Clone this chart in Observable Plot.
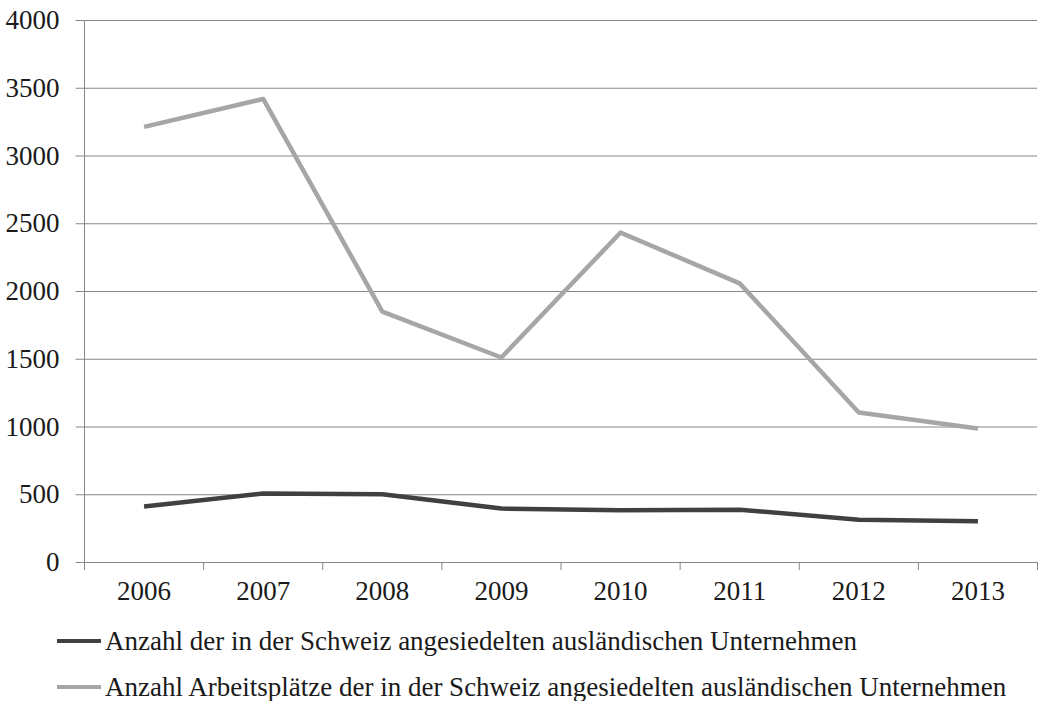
<!DOCTYPE html>
<html>
<head>
<meta charset="utf-8">
<script src="https://cdn.jsdelivr.net/npm/d3@7"></script>
<script src="https://cdn.jsdelivr.net/npm/@observablehq/plot@0.6"></script>
<style>
  body { margin: 0; background: #fff; font-family: "Liberation Serif", "Times New Roman", serif; }
  #legend { position: relative; font-size: 27px; color: #1a1a1a; }
  .row { position: absolute; left: 57px; display: flex; align-items: center; white-space: nowrap; }
  .sw { width: 44px; height: 4px; margin-right: 4px; }
</style>
</head>
<body>
<div id="chart"></div>
<div id="legend"></div>
<script>
const years = [2006, 2007, 2008, 2009, 2010, 2011, 2012, 2013];
const firms = [414, 510, 504, 398, 385, 390, 316, 304];
const jobs = [3215, 3421, 1852, 1513, 2435, 2060, 1107, 989];
const seriesNames = [
  "Anzahl der in der Schweiz angesiedelten ausländischen Unternehmen",
  "Anzahl Arbeitsplätze der in der Schweiz angesiedelten ausländischen Unternehmen"
];
const seriesColors = ["#404040", "#a6a6a6"];
const yTicks = [0, 500, 1000, 1500, 2000, 2500, 3000, 3500, 4000];

const data = [];
years.forEach((y, i) => data.push({year: y, value: firms[i], series: seriesNames[0]}));
years.forEach((y, i) => data.push({year: y, value: jobs[i], series: seriesNames[1]}));
const boundaries = years.map(y => y - 0.5).concat([years[years.length - 1] + 0.5]);

const chart = Plot.plot({
  width: 1040,
  height: 610,
  marginLeft: 84,
  marginRight: 3,
  marginTop: 20,
  marginBottom: 48,
  style: {fontFamily: "Liberation Serif, Times New Roman, serif", fontSize: "27px", color: "#1a1a1a", background: "#fff"},
  x: {domain: [years[0] - 0.5, years[years.length - 1] + 0.5]},
  y: {domain: [0, 4000]},
  color: {domain: seriesNames, range: seriesColors},
  marks: [
    Plot.ruleY(yTicks, {x1: years[0] - 0.5 - 0.07, x2: years[years.length - 1] + 0.5, stroke: "#868686", strokeWidth: 1}),
    Plot.ruleX([years[0] - 0.5], {stroke: "#868686", strokeWidth: 1}),
    Plot.axisY({ticks: yTicks, tickSize: 0, tickPadding: 25, tickFormat: d => String(d), label: null, fill: "#1a1a1a"}),
    Plot.axisX({ticks: boundaries, tickSize: 8, tickFormat: () => "", label: null, stroke: "#868686"}),
    Plot.axisX({ticks: years, tickSize: 0, tickPadding: 18, tickFormat: d => String(d), label: null, fill: "#1a1a1a"}),
    Plot.line(data, {x: "year", y: "value", z: "series", stroke: "series", strokeWidth: 4.5, strokeLinejoin: "round", strokeLinecap: "butt"})
  ]
});
document.getElementById("chart").appendChild(chart);

const legend = document.getElementById("legend");
legend.style.height = "91px";
seriesNames.forEach((name, i) => {
  const row = document.createElement("div");
  row.className = "row";
  row.style.top = (i === 0 ? 16 : 62) + "px";
  row.style.height = "30px";
  const sw = document.createElement("span");
  sw.className = "sw";
  sw.style.background = seriesColors[i];
  const t = document.createElement("span");
  t.textContent = name;
  row.appendChild(sw);
  row.appendChild(t);
  legend.appendChild(row);
});
</script>
</body>
</html>
